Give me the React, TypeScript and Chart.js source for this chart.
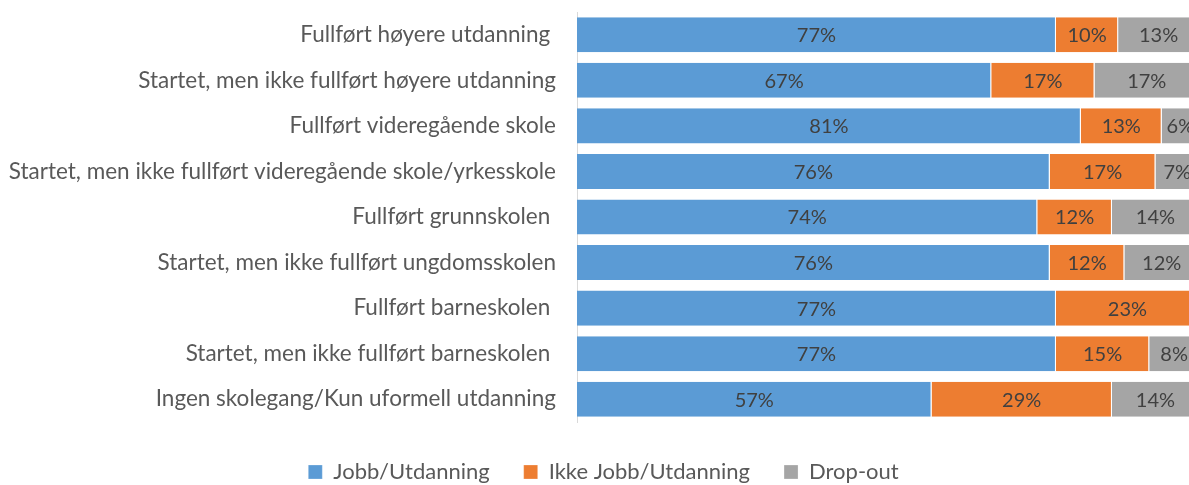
import React, { useEffect, useRef } from "react";
import { Chart, registerables } from "chart.js";

Chart.register(...registerables);

const categories = [
  "Fullført høyere utdanning ",
  "Startet, men ikke fullført høyere utdanning",
  "Fullført videregående skole",
  "Startet, men ikke fullført videregående skole/yrkesskole",
  "Fullført grunnskolen ",
  "Startet, men ikke fullført ungdomsskolen",
  "Fullført barneskolen ",
  "Startet, men ikke fullført barneskolen ",
  "Ingen skolegang/Kun uformell utdanning",
];

const seriesNames = ["Jobb/Utdanning", "Ikke Jobb/Utdanning", "Drop-out"];
const jobb = [77, 66.6, 81, 76, 74, 76, 77, 77, 57];
const ikkeJobb = [10, 16.6, 13, 17, 12, 12, 23, 15, 29];
const dropOut = [13, 16.8, 6, 7, 14, 12, 0, 8, 14];
const colors = ["#5B9BD5", "#ED7D31", "#A5A5A5"];

const FONT = "Lato, 'Open Sans', sans-serif";

const labelPlugin = {
  id: "segLabels",
  afterDatasetsDraw(chart: any) {
    const ctx = chart.ctx;
    ctx.save();
    ctx.font = `20px ${FONT}`;
    ctx.fillStyle = "#404040";
    ctx.textAlign = "center";
    ctx.textBaseline = "middle";
    chart.data.datasets.forEach((ds: any, di: number) => {
      const meta = chart.getDatasetMeta(di);
      meta.data.forEach((el: any, i: number) => {
        const v = ds.data[i];
        if (!v) return;
        const cx = (el.x + el.base) / 2;
        ctx.fillText(`${Math.round(v)}%`, cx, el.y + 1);
      });
    });
    ctx.restore();
  },
};

export default function App() {
  const ref = useRef<HTMLCanvasElement>(null);
  useEffect(() => {
    if (!ref.current) return;
    const data = [jobb, ikkeJobb, dropOut];
    const chart = new Chart(ref.current, {
      type: "bar",
      data: {
        labels: categories,
        datasets: seriesNames.map((n, k) => ({
          label: n,
          data: data[k],
          backgroundColor: colors[k],
          borderColor: "#ffffff",
          borderWidth: { right: 1 },
          borderSkipped: false,
          barPercentage: 0.77,
          categoryPercentage: 1,
        })),
      },
      options: {
        indexAxis: "y",
        responsive: false,
        animation: false,
        layout: { padding: { top: 4, left: 0, right: 0, bottom: 0 } },
        scales: {
          x: {
            stacked: true,
            min: 0,
            max: 100,
            display: true,
            ticks: { display: false },
            grid: { display: false, drawTicks: false },
            border: { display: false },
            afterFit: (s: any) => {
              s.height = 5;
              s.paddingLeft = 0;
              s.paddingRight = 0;
            },
          },
          y: {
            stacked: true,
            grid: { display: false, drawTicks: false },
            border: { display: true, color: "#D9D9D9", width: 1 },
            ticks: {
              padding: 21,
              color: "#595959",
              font: { family: FONT, size: 22.5 },
            },
            afterFit: (s: any) => {
              s.width = 569;
              s.paddingTop = 0;
              s.paddingBottom = 0;
            },
          },
        },
        plugins: {
          legend: {
            position: "bottom",
            labels: {
              boxWidth: 14,
              boxHeight: 14,
              padding: 34,
              color: "#595959",
              font: { family: FONT, size: 22 },
            },
          },
          tooltip: { enabled: false },
        },
      },
      plugins: [labelPlugin],
    });
    return () => chart.destroy();
  }, []);
  return (
    <div
      style={{
        position: "fixed",
        left: 0,
        top: 0,
        width: 1189,
        height: 485,
        overflow: "hidden",
        background: "#fff",
      }}
    >
      <div style={{ position: "absolute", left: 8, top: 8 }}>
        <canvas ref={ref} width={1191} height={485} style={{ display: "block" }} />
      </div>
    </div>
  );
}
